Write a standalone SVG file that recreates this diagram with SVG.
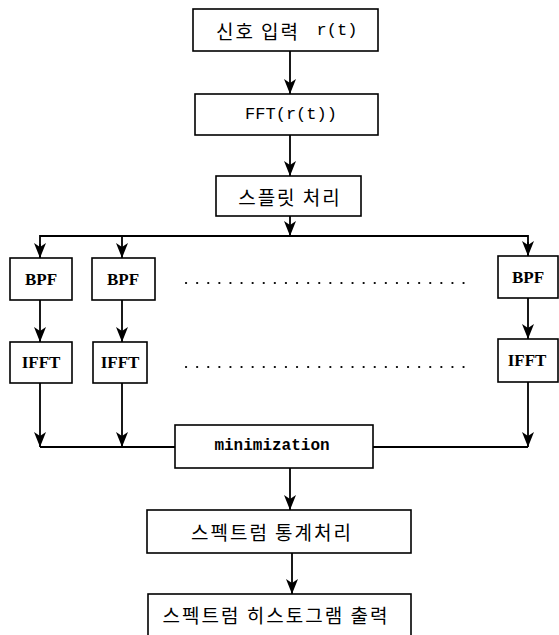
<svg xmlns="http://www.w3.org/2000/svg" width="559" height="635" viewBox="0 0 559 635">
<defs>
<marker id="ah" viewBox="0 0 15 12" refX="15" refY="6" markerWidth="15" markerHeight="12" markerUnits="userSpaceOnUse" orient="auto">
<path d="M0,0 L15,6 L0,12 L4,6 z" fill="#000"/>
</marker>
<style>
.box{fill:#fff;stroke:#000;stroke-width:1.6}
.kr{font-family:"Noto Sans CJK KR","Noto Sans",sans-serif;font-size:19px;letter-spacing:2px;fill:#000;text-anchor:middle;dominant-baseline:central}
.lat{font-family:"Liberation Mono",monospace;font-size:17px;fill:#000;text-anchor:middle;dominant-baseline:central}
.blk{font-family:"Liberation Serif",serif;font-size:17px;font-weight:bold;fill:#000;text-anchor:middle;dominant-baseline:central}
.mono{font-family:"Liberation Mono",monospace;font-size:16px;font-weight:bold;fill:#000;text-anchor:middle;dominant-baseline:central}
.ln{fill:none;stroke:#000;stroke-width:1.8}
.arr{fill:none;stroke:#000;stroke-width:1.8;marker-end:url(#ah)}
.dot{fill:none;stroke:#000;stroke-width:2.2;stroke-dasharray:0.1 11;stroke-linecap:round}
</style>
</defs>
<g id="connectors">
<line class="arr" x1="290" y1="51" x2="290" y2="94"/>
<line class="arr" x1="290" y1="135" x2="290" y2="176"/>
<line class="arr" x1="290" y1="216" x2="290" y2="236"/>
<polyline class="ln" points="40,258 40,236 528,236 528,256"/>
<line class="arr" x1="40" y1="244" x2="40" y2="258"/>
<line class="arr" x1="122" y1="236" x2="122" y2="258"/>
<line class="arr" x1="528" y1="242" x2="528" y2="256"/>
<line class="arr" x1="40" y1="300" x2="40" y2="342"/>
<line class="arr" x1="122" y1="300" x2="122" y2="342"/>
<line class="arr" x1="528" y1="298" x2="528" y2="339"/>
<line class="arr" x1="40" y1="383" x2="40" y2="447"/>
<line class="arr" x1="122" y1="383" x2="122" y2="447"/>
<line class="arr" x1="528" y1="382" x2="528" y2="447"/>
<line class="ln" x1="40" y1="447" x2="175" y2="447"/>
<line class="ln" x1="373" y1="447" x2="528" y2="447"/>
<line class="arr" x1="290" y1="468" x2="290" y2="510"/>
<line class="arr" x1="292" y1="553" x2="292" y2="594"/>
<line class="dot" x1="186" y1="283" x2="467" y2="283"/>
<line class="dot" x1="186" y1="367" x2="467" y2="367"/>
</g>
<g id="n1"><rect class="box" x="193" y="9" width="185" height="42"/><text class="kr" x="258" y="30">신호 입력</text><text class="lat" x="337" y="30">r(t)</text></g>
<g id="n2"><rect class="box" x="195" y="94" width="183" height="41"/><text class="lat" x="291" y="114">FFT(r(t))</text></g>
<g id="n3"><rect class="box" x="216" y="176" width="145" height="40"/><text class="kr" x="290" y="196">스플릿 처리</text></g>
<g id="bpf1"><rect class="box" x="10" y="258" width="62" height="42"/><text class="blk" x="41" y="279">BPF</text></g>
<g id="bpf2"><rect class="box" x="92" y="258" width="63" height="42"/><text class="blk" x="123" y="279">BPF</text></g>
<g id="bpf3"><rect class="box" x="498" y="256" width="60" height="42"/><text class="blk" x="528" y="277">BPF</text></g>
<g id="ifft1"><rect class="box" x="10" y="342" width="62" height="41"/><text class="blk" x="41" y="362">IFFT</text></g>
<g id="ifft2"><rect class="box" x="93" y="342" width="54" height="41"/><text class="blk" x="120" y="362">IFFT</text></g>
<g id="ifft3"><rect class="box" x="498" y="339" width="60" height="43"/><text class="blk" x="527" y="360">IFFT</text></g>
<g id="min"><rect class="box" x="175" y="425" width="198" height="43"/><text class="mono" x="272" y="446">minimization</text></g>
<g id="stat"><rect class="box" x="147" y="510" width="264" height="43"/><text class="kr" x="272" y="531">스펙트럼 통계처리</text></g>
<g id="hist"><rect class="box" x="148" y="594" width="263" height="42"/><text class="kr" x="276" y="614">스펙트럼 히스토그램 출력</text></g>
</svg>
